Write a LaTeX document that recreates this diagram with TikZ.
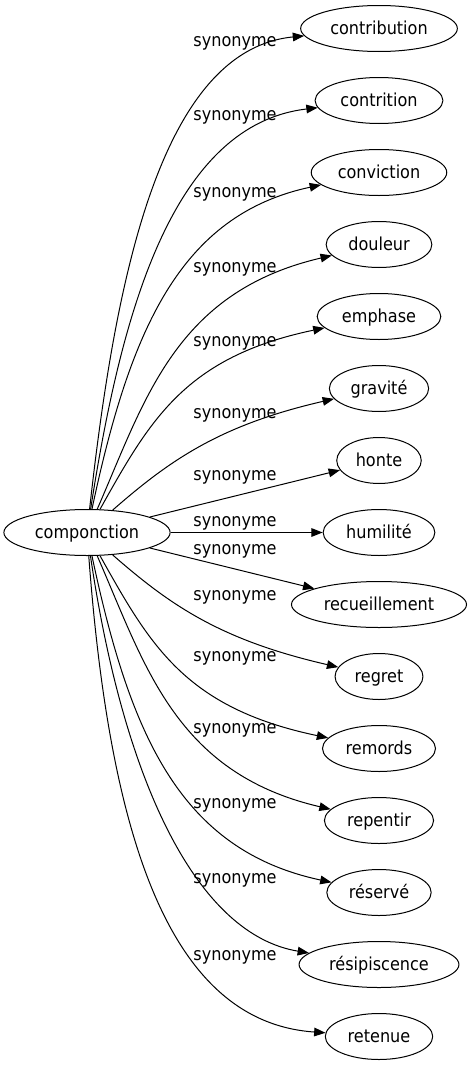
\documentclass[tikz,border=0pt]{standalone}
\usepackage{fontspec}
\setmainfont{DejaVu Sans}[FakeStretch=0.9]
\usetikzlibrary{shapes.geometric,arrows.meta}
\newcommand{\tx}{379}
\newcommand{\lx}{235}

\begin{document}
\begin{tikzpicture}[x=0.75pt,y=-0.75pt,
  word/.style={ellipse,draw=black,line width=0.75pt,minimum height=34.5pt,
    inner xsep=5pt,inner ysep=0pt,text height=10pt,text depth=0.3pt,
    font=\fontsize{13.4}{16}\selectfont},
  rel/.style={font=\fontsize{13.4}{16}\selectfont,inner sep=0pt},
  syn/.style={draw=black,line width=0.75pt,-{Triangle[length=8.5pt,width=6.5pt]}}]
\useasboundingbox (0,0) rectangle (469,1067);
\node[word] (c) at (87,532.5) {componction};
\foreach \i/\w in {0/contribution,1/contrition,2/conviction,3/douleur,4/emphase,
  5/gravité,6/honte,7/humilité,8/recueillement,9/regret,10/remords,
  11/repentir,12/réservé,13/résipiscence,14/retenue}{
\node[word] (t\i) at (\tx,{28.5+72*\i}) {\w};
}
\foreach \i/\ly in {0/43,1/117,2/194,3/269,4/343,5/415,6/477,7/523,
  8/551,9/597,10/658,11/730,12/805,13/880,14/957}{
\node[rel] (l\i) at (\lx,\ly) {synonyme};
}
% upper fan
\foreach \i/\ax/\ay/\bx/\by in {0/115/280/160/50,1/120/320/170/125,
  2/130/330/180/215,3/145/400/175/292,4/150/420/185/357,5/170/460/220/425}{
\draw[syn] (c) .. controls (\ax,\ay) and (\bx,\by) .. (t\i);
}
% lower fan, mirrored
\foreach \i/\ax/\ay/\bx/\by in {14/110/225/170/43,13/125/275/200/130,
  12/130/330/180/215,11/145/400/175/292,10/150/420/185/357,9/170/460/220/425}{
\draw[syn] (c) .. controls (\ax,{1065-\ay}) and (\bx,{1065-\by}) .. (t\i);
}
\foreach \i in {6,7,8}{
\draw[syn] (c) -- (t\i);
}
\end{tikzpicture}
\end{document}
